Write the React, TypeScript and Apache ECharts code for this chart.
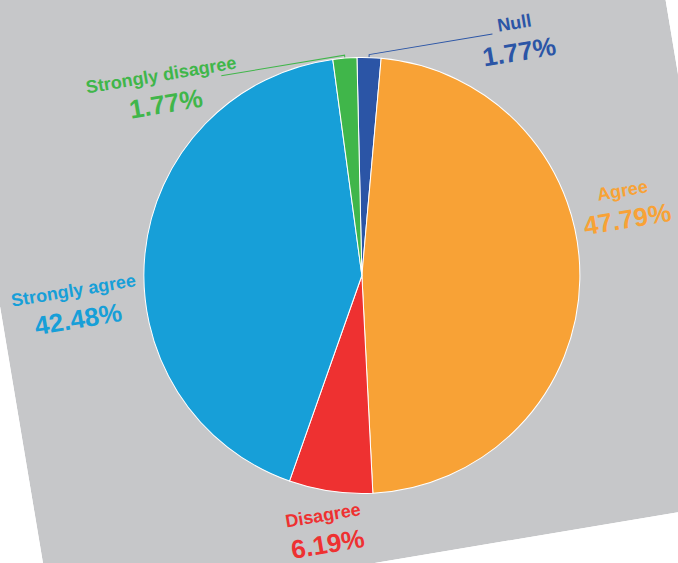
import React, { useEffect, useRef } from 'react';
import * as echarts from 'echarts';

// ---- data ----
const categories = ['Null', 'Agree', 'Disagree', 'Strongly agree', 'Strongly disagree'];
const percents = [1.77, 47.79, 6.19, 42.48, 1.77];

// ---- styles / layout ----
const colors = ['#2b55a6', '#f8a236', '#ee3131', '#179fd8', '#40b64a'];
const showLine = [true, false, false, false, true];
// centre of each label block inside the (un-rotated) chart frame, in px
const labelCenters: [number, number][] = [
  [554, 186],
  [633, 369],
  [284, 640],
  [75, 377],
  [197, 179],
];
const LINE_LEN = 3;
const LINE_LEN2 = 125;
const FRAME_W = 707;
const FRAME_H = 680;
const TILT = 9.5; // the whole figure is tilted counter-clockwise
const FONT = '"Liberation Sans", Arial, sans-serif';

export default function App() {
  const ref = useRef<HTMLDivElement>(null);
  useEffect(() => {
    const chart = echarts.init(ref.current as HTMLDivElement, null, {
      renderer: 'svg',
      width: FRAME_W,
      height: FRAME_H,
    });
    chart.setOption({
      animation: false,
      backgroundColor: '#c6c7c9',
      series: [
        {
          type: 'pie',
          center: [362, 394.3],
          radius: 218,
          startAngle: 81.8,
          clockwise: true,
          avoidLabelOverlap: false,
          silent: true,
          itemStyle: { borderColor: '#ffffff', borderWidth: 1 },
          label: {
            show: true,
            position: 'outside',
            fontFamily: FONT,
            fontWeight: 'bold',
            formatter: (p: any) => `{n|${p.name}}\n{v|${Number(p.value).toFixed(2)}%}`,
            rich: {
              n: { fontFamily: FONT, fontWeight: 'bold', fontSize: 18, lineHeight: 27, align: 'center' },
              v: { fontFamily: FONT, fontWeight: 'bold', fontSize: 26, lineHeight: 31, align: 'center' },
            },
          },
          labelLine: {
            show: true,
            length: LINE_LEN,
            length2: LINE_LEN2,
            minTurnAngle: 0,
            lineStyle: { width: 1 },
          },
          labelLayout: (params: any) => {
            const c = labelCenters[params.dataIndex];
            let pts = params.labelLinePoints;
            if (pts && pts.length >= 3) {
              const p1 = pts[0];
              const p2 = pts[1];
              const side = c[0] < p2[0] ? -1 : 1;
              pts = [p1, p2, [p2[0] + side * LINE_LEN2, p2[1]]];
            }
            return {
              x: c[0],
              y: c[1],
              align: 'center',
              verticalAlign: 'middle',
              labelLinePoints: pts,
            };
          },
          data: categories.map((name, i) => ({
            name,
            value: percents[i],
            itemStyle: { color: colors[i] },
            label: { color: colors[i] },
            labelLine: { show: showLine[i], lineStyle: { color: colors[i], width: 1 } },
          })),
        },
      ],
    });
    return () => chart.dispose();
  }, []);

  return (
    <div
      style={{
        position: 'fixed',
        left: 0,
        top: 0,
        width: 678,
        height: 563,
        overflow: 'hidden',
        background: '#ffffff',
      }}
    >
      <div
        ref={ref}
        style={{
          position: 'absolute',
          left: 52.1,
          top: 616.6 - FRAME_H,
          width: FRAME_W,
          height: FRAME_H,
          transform: `rotate(-${TILT}deg)`,
          transformOrigin: '0 100%',
        }}
      />
    </div>
  );
}
